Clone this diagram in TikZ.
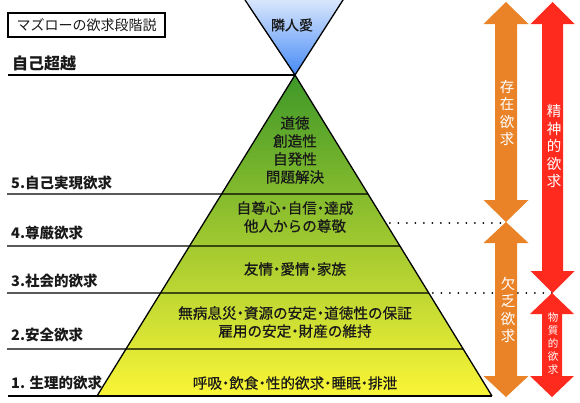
\documentclass[tikz,border=0pt]{standalone}
\usepackage{fontspec}
\setmainfont{Noto Sans CJK JP}
\newfontfamily\jpmed[RawFeature={embolden=0.6}]{Noto Sans CJK JP}
\usetikzlibrary{calc}
\definecolor{orng}{RGB}{234,131,40}
\definecolor{rd}{RGB}{255,42,30}
\definecolor{pytop}{RGB}{62,152,40}
\definecolor{pymid}{RGB}{145,200,45}
\definecolor{pybot}{RGB}{250,245,55}
\definecolor{bltop}{RGB}{232,240,253}
\definecolor{blbot}{RGB}{70,138,246}
\definecolor{txt}{RGB}{25,25,25}
\newcommand{\nk}{\makebox[0.5em][c]{・}}
\newcommand{\dblarr}[7]{% color, cx, ytop, ybot, shaft half, head half, head length
  \fill[#1] (#2,#3) -- ({#2+#6},{#3+#7}) -- ({#2+#5},{#3+#7}) -- ({#2+#5},{#4-#7})
    -- ({#2+#6},{#4-#7}) -- (#2,#4) -- ({#2-#6},{#4-#7}) -- ({#2-#5},{#4-#7})
    -- ({#2-#5},{#3+#7}) -- ({#2-#6},{#3+#7}) -- cycle;}
\begin{document}
\begin{tikzpicture}[x=1pt,y=-1pt,
  lvl/.style={anchor=west, inner sep=0, text=txt, font=\bfseries\fontsize{14.5}{16}\selectfont},
  ptxt/.style={align=center, inner sep=0, text=txt, font=\jpmed\fontsize{14.6}{18}\selectfont},
  vtxt/.style={align=center, inner sep=0, text=white, font=\fontsize{14.5}{17.5}\selectfont},
  vsmall/.style={align=center, inner sep=0, text=white, font=\fontsize{10.5}{13}\selectfont},
  lv/.style={line width=1.3pt, black},
  dots/.style={line width=2pt, line cap=round, dash pattern=on 0pt off 8.5pt}]
\useasboundingbox (0,0) rectangle (580,402);
% inverted triangle
\coordinate (A) at (295,75);
\coordinate (TL) at (239.7,-8);
\coordinate (TR) at (348.1,-8);
\shade[top color=bltop, bottom color=blbot] (TL) -- (A) -- (TR) -- cycle;
\draw[lv] (TL) -- (A) -- (TR);
\node[inner sep=0, text=txt, font=\jpmed\fontsize{14}{16}\selectfont] (love) at (292,25) {隣人愛};
% pyramid
\coordinate (BL) at (97,396);
\coordinate (BR) at (492,396);
\shade[top color=pytop, middle color=pymid, bottom color=pybot] (A) -- (BL) -- (BR) -- cycle;
% level lines
\coordinate (L0) at (8,75);
\draw[lv] (L0) -- (A);
\foreach \yy/\nm in {194/a,246/b,293/c,349/d}{
  \coordinate (s\nm) at (7,\yy);
  \coordinate (e\nm) at ($(A)!{(\yy-75)/321}!(BR)$);
  \draw[lv] (s\nm) -- (e\nm);
}
\coordinate (sbase) at (8,396);
\draw[lv] (sbase) -- (BR);
\draw[lv, line join=miter] (BL) -- (A) -- (BR);
% dotted lines
\coordinate (d1s) at ($(A)!{(223-75)/321}!(BR)+(4,0)$);
\coordinate (d1e) at (506,223);
\coordinate (d2s) at ($(A)!{(293-75)/321}!(BR)+(4,0)$);
\coordinate (d2e) at (552,293);
\draw[dots] (d1s) -- (d1e);
\draw[dots] (d2s) -- (d2e);
% title & left labels
\node[draw, line width=1.3pt, minimum width=157pt, minimum height=24pt, inner sep=0,
  text=txt, font=\fontsize{14}{16}\selectfont] (title) at (86.5,25) {マズローの欲求段階説};
\node[lvl, font=\bfseries\fontsize{16}{18}\selectfont] (self) at (12,63) {自己超越};
\node[lvl] (l5) at (11,183) {5.自己実現欲求};
\node[lvl] (l4) at (11,233) {4.尊厳欲求};
\node[lvl] (l3) at (11,281) {3.社会的欲求};
\node[lvl] (l2) at (11,335) {2.安全欲求};
\node[lvl] (l1) at (11,383) {1. 生理的欲求};
% pyramid texts
\node[ptxt] (p5) at (295,150) {道徳\\創造性\\自発性\\問題解決};
\node[ptxt] (p4) at (295,217) {自尊心\nk 自信\nk 達成\\他人からの尊敬};
\node[ptxt] (p3) at (295,269) {友情\nk 愛情\nk 家族};
\node[ptxt] (p2) at (295,322) {無病息災\nk 資源の安定\nk 道徳性の保証\\雇用の安定\nk 財産の維持};
\node[ptxt] (p1) at (295,383) {呼吸\nk 飲食\nk 性的欲求\nk 睡眠\nk 排泄};
% arrows
\dblarr{orng}{506}{2}{222}{11}{22.5}{22}
\dblarr{orng}{506}{222}{397}{11}{22.5}{21}
\dblarr{rd}{552.5}{2}{293}{10.5}{22}{22}
\dblarr{rd}{552}{293}{397}{10}{22}{21}
\node[vtxt] (a1) at (507,113) {存\\在\\欲\\求};
\node[vtxt] (a2) at (508,310) {欠\\乏\\欲\\求};
\node[vtxt] (a3) at (554,146) {精\\神\\的\\欲\\求};
\node[vsmall] (a4) at (553,344) {物\\質\\的\\欲\\求};
\end{tikzpicture}
\end{document}
